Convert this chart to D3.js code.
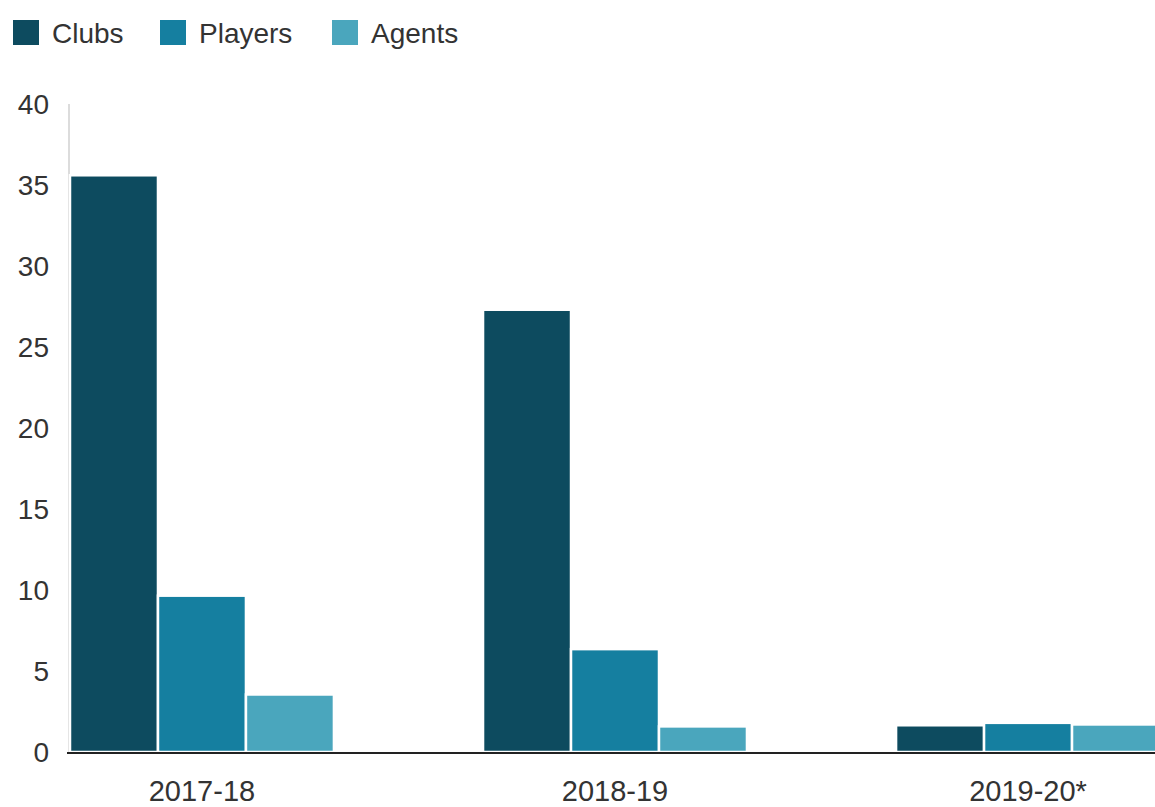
<!DOCTYPE html>
<html>
<head>
<meta charset="utf-8">
<script src="https://cdn.jsdelivr.net/npm/d3@7"></script>
<style>
  body { margin: 0; background: #fff; }
  text { font-family: "Liberation Sans", Arial, sans-serif; fill: #333; }
</style>
</head>
<body>
<div id="chart"></div>
<script>
// data
const seasons = ["2017-18", "2018-19", "2019-20*"];
const series = ["Clubs", "Players", "Agents"];
const clubs = [35.6, 27.3, 1.65];
const players = [9.65, 6.35, 1.8];
const agents = [3.55, 1.58, 1.7];
const yTicks = [0, 5, 10, 15, 20, 25, 30, 35, 40];
const colors = ["#0d4b5f", "#157fa0", "#4aa6bd"];

(function() {
    'use strict';
    const width = 1155;
    const height = 807;

    const svg = d3.select("#chart")
      .append("svg")
      .attr("width", width)
      .attr("height", height);

    const values = [clubs, players, agents];

    // scales
    const x = d3.scaleBand()
      .domain(seasons)
      .range([70, 1160])
      .paddingInner(0.361)
      .paddingOuter(0)
      .align(0);

    const xs = d3.scaleBand()
      .domain(series)
      .range([0, x.bandwidth()]);

    const y = d3.scaleLinear()
      .domain([0, 40])
      .range([752, 104]);

    const color = d3.scaleOrdinal().domain(series).range(colors);

    // y axis line (light grey)
    svg.append("line")
      .attr("x1", 69).attr("x2", 69)
      .attr("y1", y(40)).attr("y2", y(0))
      .attr("stroke", "#d0d0d0")
      .attr("stroke-width", 1.5);

    // y tick labels
    svg.append("g")
      .selectAll("text")
      .data(yTicks)
      .enter()
      .append("text")
      .attr("x", 49)
      .attr("y", d => y(d))
      .attr("dy", "0.35em")
      .attr("text-anchor", "end")
      .style("font-size", "28px")
      .text(d => d);

    // bars
    const groups = svg.append("g")
      .selectAll("g")
      .data(seasons)
      .enter()
      .append("g")
      .attr("transform", d => `translate(${x(d)},0)`);

    groups.selectAll("rect")
      .data((d, i) => series.map((s, j) => ({ key: s, value: values[j][i] })))
      .enter()
      .append("rect")
      .attr("x", d => xs(d.key))
      .attr("y", d => y(d.value))
      .attr("width", xs.bandwidth())
      .attr("height", d => y(0) - y(d.value))
      .attr("fill", d => color(d.key))
      .attr("stroke", "#fff")
      .attr("stroke-width", 2.5);

    // baseline
    svg.append("line")
      .attr("x1", 67).attr("x2", width)
      .attr("y1", y(0) + 1).attr("y2", y(0) + 1)
      .attr("stroke", "#222")
      .attr("stroke-width", 2);

    // category labels
    svg.append("g")
      .selectAll("text")
      .data(seasons)
      .enter()
      .append("text")
      .attr("x", d => x(d) + x.bandwidth() / 2)
      .attr("y", 801)
      .attr("text-anchor", "middle")
      .style("font-size", "29px")
      .text(d => d);

    // legend
    const legendX = [13, 160, 332];
    const legend = svg.append("g")
      .selectAll("g")
      .data(series)
      .enter()
      .append("g")
      .attr("transform", (d, i) => `translate(${legendX[i]},20)`);

    legend.append("rect")
      .attr("width", 26)
      .attr("height", 25)
      .attr("fill", d => color(d));

    legend.append("text")
      .attr("x", 39)
      .attr("y", 13)
      .attr("dy", "0.35em")
      .style("font-size", "28px")
      .text(d => d);
})();
</script>
</body>
</html>
